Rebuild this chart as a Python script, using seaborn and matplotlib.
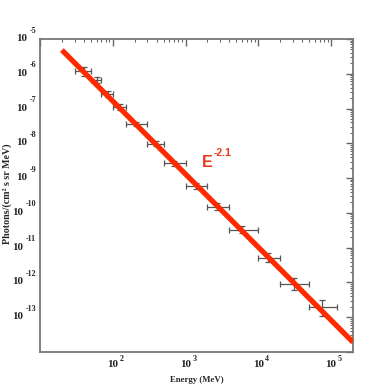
import numpy as np
import pandas as pd
import matplotlib
matplotlib.use("Agg")
import matplotlib.pyplot as plt
import seaborn as sns
from matplotlib.ticker import LogLocator, NullFormatter, FixedLocator
from matplotlib.transforms import blended_transform_factory

# Data
energy = [40, 60, 85, 125, 210, 390, 700, 1400, 2700, 6000, 13700, 31000, 74000]
e_low = [30, 50, 70, 100, 150, 300, 500, 1000, 2000, 4000, 10000, 20000, 50000]
e_high = [50, 70, 100, 150, 300, 500, 1000, 2000, 4000, 10000, 20000, 50000, 120000]
flux = [1.2e-6, 6.6e-7, 2.6e-7, 1.11e-7, 3.6e-8, 9.6e-9, 2.7e-9, 6.0e-10,
        1.49e-10, 3.24e-11, 5.2e-12, 9.1e-13, 2.0e-13]
flux_lo = [8.9e-7, 5.3e-7, 2.14e-7, 9.1e-8, 3.06e-8, 8.2e-9, 2.3e-9, 4.9e-10,
           1.18e-10, 2.57e-11, 3.8e-12, 6.1e-13, 1.05e-13]
flux_hi = [1.6e-6, 8.2e-7, 3.2e-7, 1.36e-7, 4.2e-8, 1.13e-8, 3.2e-9, 7.3e-10,
           1.88e-10, 4.1e-11, 7.1e-12, 1.35e-12, 3.2e-13]

model_norm = 2.6e-3
model_index = -2.1
model_energy = [20, 200000]

x_ticks = [1e1, 1e2, 1e3, 1e4, 1e5]
x_tick_exps = ["", "2", "3", "4", "5"]
y_ticks = [1e-5, 1e-6, 1e-7, 1e-8, 1e-9, 1e-10, 1e-11, 1e-12, 1e-13, 1e-14]
y_tick_exps = ["-5", "-6", "-7", "-8", "-9", "-10", "-11", "-12", "-13", ""]

sns.set_style("white")
plt.rcParams['font.family'] = ['Liberation Serif', 'DejaVu Serif']

fig = plt.figure(figsize=(3.92, 3.92), dpi=100)
ax = fig.add_axes([0.102, 0.102, 0.7985, 0.7985])

# model line
me = np.array(model_energy, dtype=float)
mdf = pd.DataFrame({"E": me, "F": model_norm * me ** model_index})
sns.lineplot(data=mdf, x="E", y="F", ax=ax, color="#ff2a00", linewidth=3.8,
             solid_capstyle="butt", zorder=3)

# error bars
E = np.array(energy, dtype=float)
F = np.array(flux)
xerr = [E - np.array(e_low), np.array(e_high) - E]
yerr = [F - np.array(flux_lo), np.array(flux_hi) - F]
ax.errorbar(E, F, xerr=xerr, yerr=yerr, fmt='none', ecolor="#555555",
            elinewidth=0.9, capsize=2.5, capthick=0.9, zorder=2)

ax.set_xscale("log")
ax.set_yscale("log")
ax.set_xlim(10, 2e5)
ax.set_ylim(1e-14, 1e-5)
ax.set_xlabel("")
ax.set_ylabel("")

ax.xaxis.set_major_locator(FixedLocator(x_ticks))
ax.yaxis.set_major_locator(FixedLocator(y_ticks))
ax.xaxis.set_major_formatter(NullFormatter())
ax.yaxis.set_major_formatter(NullFormatter())
ax.xaxis.set_minor_locator(LogLocator(base=10, subs=np.arange(2, 10), numticks=20))
ax.yaxis.set_minor_locator(LogLocator(base=10, subs=np.arange(2, 10), numticks=20))
ax.xaxis.set_minor_formatter(NullFormatter())
ax.yaxis.set_minor_formatter(NullFormatter())

ax.tick_params(which="both", direction="in", top=True, right=True, color="#666666")
ax.tick_params(which="major", length=5, width=1.0)
ax.tick_params(which="minor", length=2.5, width=0.8)
for s in ax.spines.values():
    s.set_color("#777777")
    s.set_linewidth(1.3)
    s.set_visible(True)

big = 8.0
small = 5.8
# y tick labels: "10" with raised exponent, right-aligned near axis
ytr = blended_transform_factory(ax.transAxes, ax.transData)
for v, ex in zip(y_ticks, y_tick_exps):
    if not ex:
        continue
    et = ax.annotate(ex, xy=(0, v), xycoords=ytr, xytext=(-4, 8.5),
                     textcoords="offset pixels", ha="right", va="center",
                     fontsize=small, fontweight="bold")
    ax.annotate("10", xy=(0, 0.5), xycoords=et, xytext=(-2.5, -8.0),
                textcoords="offset pixels", ha="right", va="center",
                fontsize=big, fontweight="bold")

# x tick labels
xtr = blended_transform_factory(ax.transData, ax.transAxes)
for v, ex in zip(x_ticks, x_tick_exps):
    if not ex:
        continue
    tt = ax.annotate("10", xy=(v, 0), xycoords=xtr, xytext=(0, -12.5),
                     textcoords="offset pixels", ha="center", va="center",
                     fontsize=big, fontweight="bold")
    ax.annotate(ex, xy=(1, 0.5), xycoords=tt, xytext=(1.5, 6),
                textcoords="offset pixels", ha="left", va="center",
                fontsize=small, fontweight="bold")

fig.text(196.5 / 392, 1 - 380 / 392, "Energy (MeV)", ha="center", va="center",
         fontsize=6.3, fontweight="bold")
fig.text(7.5 / 392, 1 - 194 / 392, "Photons/(cm\u00b2 s sr MeV)", ha="center",
         va="center", rotation=90, fontsize=7.2, fontweight="bold")

sans = ["Liberation Sans", "DejaVu Sans"]
ax.annotate("E", xy=(201.5 / 392, 1 - 167 / 392), xycoords="figure fraction",
            ha="left", va="baseline", color="#e63a14", fontsize=11.5,
            fontweight="bold", family=sans)
ax.annotate("-2.1", xy=(213.5 / 392, 1 - 156 / 392), xycoords="figure fraction",
            ha="left", va="baseline", color="#e63a14", fontsize=7.5,
            fontweight="bold", family=sans)

fig.savefig("out.png", dpi=100, facecolor="white")
